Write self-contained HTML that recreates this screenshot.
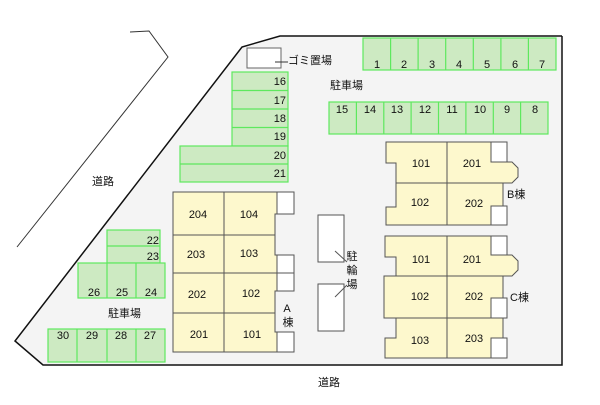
<!DOCTYPE html>
<html><head><meta charset="utf-8"><style>
html,body{margin:0;padding:0;background:#fff;}
svg text{font-family:"Liberation Sans","Noto Sans CJK JP",sans-serif;fill:#111;}
</style></head><body>
<svg width="600" height="400" viewBox="0 0 600 400" xmlns="http://www.w3.org/2000/svg">
<polyline points="130,32 149,31 168,57 17,247" fill="none" stroke="#333" stroke-width="1"/>
<polygon points="242,47 280,36 562,36 562,365 43,365 15,341" fill="#f4f4f4" stroke="none"/>
<polyline points="562,36 562,365 43,365 15,341 242,47 280,36 562,36" fill="none" stroke="#111" stroke-width="1.5"/>
<g fill="#cdeac2" stroke="#5ee85e" stroke-width="1.2">
<rect x="363" y="38" width="193" height="32"/>
<rect x="329" y="102" width="219" height="32"/>
<rect x="232" y="72" width="56" height="74"/>
<rect x="180" y="146" width="108" height="36"/>
<rect x="107" y="230" width="53" height="33"/>
<rect x="78" y="263" width="87" height="35"/>
<rect x="48" y="329" width="117" height="33"/>
</g>
<g stroke="#5ee85e" stroke-width="1.2">
<line x1="390.6" y1="38" x2="390.6" y2="70"/><line x1="418.1" y1="38" x2="418.1" y2="70"/><line x1="445.7" y1="38" x2="445.7" y2="70"/><line x1="473.3" y1="38" x2="473.3" y2="70"/><line x1="500.9" y1="38" x2="500.9" y2="70"/><line x1="528.4" y1="38" x2="528.4" y2="70"/>
<line x1="356.4" y1="102" x2="356.4" y2="134"/><line x1="383.8" y1="102" x2="383.8" y2="134"/><line x1="411.1" y1="102" x2="411.1" y2="134"/><line x1="438.5" y1="102" x2="438.5" y2="134"/><line x1="465.9" y1="102" x2="465.9" y2="134"/><line x1="493.3" y1="102" x2="493.3" y2="134"/><line x1="520.6" y1="102" x2="520.6" y2="134"/>
<line x1="232" y1="90.5" x2="288" y2="90.5"/><line x1="232" y1="109" x2="288" y2="109"/><line x1="232" y1="127.5" x2="288" y2="127.5"/><line x1="180" y1="164" x2="288" y2="164"/>
<line x1="107" y1="246" x2="160" y2="246"/>
<line x1="107" y1="263" x2="107" y2="298"/><line x1="136" y1="263" x2="136" y2="298"/>
<line x1="77" y1="329" x2="77" y2="362"/><line x1="107" y1="329" x2="107" y2="362"/><line x1="136" y1="329" x2="136" y2="362"/>
</g>
<g font-size="11" text-anchor="middle">
<text x="377" y="68">1</text><text x="404" y="68">2</text><text x="432" y="68">3</text><text x="459" y="68">4</text><text x="487" y="68">5</text><text x="515" y="68">6</text><text x="542" y="68">7</text>
<text x="342" y="113">15</text><text x="370" y="113">14</text><text x="397" y="113">13</text><text x="425" y="113">12</text><text x="452" y="113">11</text><text x="480" y="113">10</text><text x="507" y="113">9</text><text x="535" y="113">8</text>
<text x="63" y="339">30</text><text x="92" y="339">29</text><text x="121" y="339">28</text><text x="150" y="339">27</text>
<text x="94" y="296">26</text><text x="122" y="296">25</text><text x="151" y="296">24</text>
</g>
<g font-size="11" text-anchor="end">
<text x="286" y="85">16</text><text x="286" y="104">17</text><text x="286" y="122">18</text><text x="286" y="140">19</text><text x="286" y="159">20</text><text x="286" y="177">21</text>
<text x="159" y="244">22</text><text x="159" y="260">23</text>
</g>
<rect x="247" y="48" width="34" height="20" fill="#fff" stroke="#666"/>
<line x1="275" y1="62" x2="288" y2="62" stroke="#333"/>
<g font-size="11">
<text x="288" y="64">ゴミ置場</text>
<text x="330" y="89">駐車場</text>
<text x="108" y="317">駐車場</text>
<text x="92" y="185">道路</text>
<text x="318" y="386">道路</text>
<text x="507" y="198">B棟</text>
<text x="510" y="301">C棟</text>
</g>
<g stroke="#555" stroke-width="1">
<path d="M173,192 H277 V214 H275 V255 H277 V291 H275 V332 H277 V352 H173 Z" fill="#fdf8cd"/>
<line x1="224" y1="192" x2="224" y2="352"/>
<line x1="173" y1="235" x2="275" y2="235"/><line x1="173" y1="273" x2="277" y2="273"/><line x1="173" y1="313" x2="275" y2="313"/>
<rect x="277" y="192" width="17" height="22" fill="#fff"/>
<rect x="277" y="255" width="17" height="18" fill="#fff"/>
<rect x="277" y="273" width="17" height="18" fill="#fff"/>
<rect x="277" y="332" width="17" height="20" fill="#fff"/>
<rect x="318" y="215" width="26" height="47" fill="#fff"/>
<rect x="318" y="284" width="26" height="47" fill="#fff"/>
<line x1="335" y1="251" x2="347" y2="262"/><line x1="335" y1="297" x2="347" y2="285"/>
</g>
<g font-size="11" text-anchor="middle">
<text x="198" y="218">204</text><text x="249" y="218">104</text>
<text x="196" y="258">203</text><text x="249" y="257">103</text>
<text x="197" y="298">202</text><text x="251" y="297">102</text>
<text x="199" y="338">201</text><text x="252" y="338">101</text>
<text x="287" y="312">A</text><text x="288" y="326">棟</text>
<text x="352" y="260">駐</text><text x="352" y="274">輪</text><text x="352" y="288">場</text>
</g>
<g stroke="#555" stroke-width="1">
<path d="M386,142 H491 V162 H512 L518,168 V177 L512,183 H503 V225 H386 V207 H396 V163 H386 Z" fill="#fdf8cd"/>
<line x1="447" y1="142" x2="447" y2="225"/><line x1="396" y1="183" x2="503" y2="183"/>
<rect x="491" y="142" width="16" height="20" fill="#fff"/>
<rect x="491" y="206" width="16" height="19" fill="#fff"/>
</g>
<g stroke="#555" stroke-width="1">
<path d="M385,236 H491 V255 H512 L518,261 V270 L512,276 H503 V358 H385 V338 H396 V318 H384 V276 H396 V257 H385 Z" fill="#fdf8cd"/>
<line x1="447" y1="236" x2="447" y2="358"/>
<line x1="384" y1="276" x2="503" y2="276"/><line x1="384" y1="318" x2="503" y2="318"/>
<rect x="491" y="236" width="16" height="19" fill="#fff"/>
<rect x="491" y="298" width="16" height="20" fill="#fff"/>
<rect x="491" y="338" width="16" height="20" fill="#fff"/>
</g>
<g font-size="11" text-anchor="middle">
<text x="421" y="167">101</text><text x="472" y="167">201</text>
<text x="420" y="206">102</text><text x="474" y="207">202</text>
<text x="421" y="263">101</text><text x="472" y="263">201</text>
<text x="420" y="300">102</text><text x="474" y="300">202</text>
<text x="420" y="344">103</text><text x="474" y="342">203</text>
</g>
</svg>
</body></html>
